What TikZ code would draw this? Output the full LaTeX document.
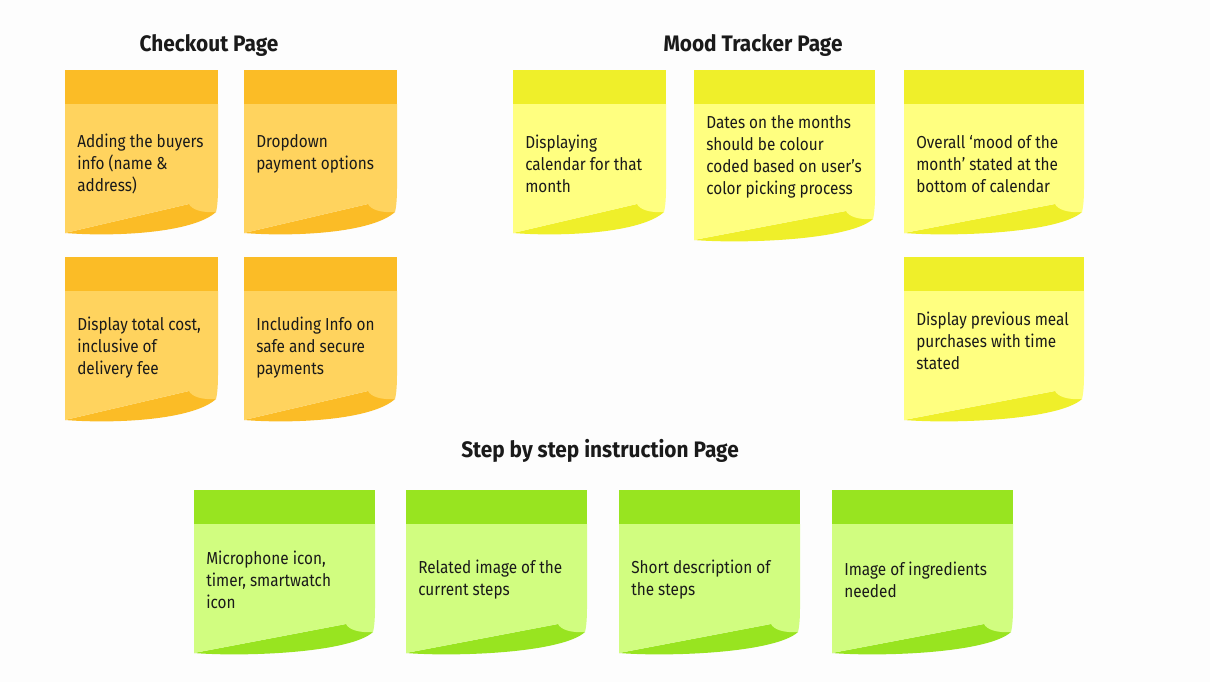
\documentclass[tikz,border=0pt]{standalone}
\usepackage{fontspec}
\setmainfont{Fira Sans}
\newfontfamily\notefont[FakeStretch=0.885]{Fira Sans}
\newfontfamily\headfont[FakeStretch=0.93]{Fira Sans}
\begin{document}
\definecolor{orahead}{HTML}{FBBC26}
\definecolor{orabody}{HTML}{FFD35E}
\definecolor{yelhead}{HTML}{EFEF2A}
\definecolor{yelbody}{HTML}{FFFF80}
\definecolor{grnhead}{HTML}{98E420}
\definecolor{grnbody}{HTML}{D1FD80}
\definecolor{ink}{HTML}{1A1A1A}
\definecolor{paper}{HTML}{FDFDFD}
\tikzset{
  notetext/.style={anchor=west, align=left, inner sep=0pt, text=ink,
    font=\notefont\fontsize{13pt}{16.5pt}\selectfont},
  heading/.style={inner sep=0pt, text=ink, font=\headfont\fontsize{16.8pt}{20pt}\selectfont\bfseries}
}
% sticky note: name, x, y, width, height, palette, text y, text
\newcommand\stickynote[8]{%
  \begin{scope}[shift={(#2,#3)}]
    \fill[#6head] (0,0) rectangle (#4,34);
    \fill[#6head] (0,#5) .. controls (50,#5+4) and (#4-25,#5) .. (#4-2,#5-21)
      -- (#4-29,#5-29) -- cycle;
    \fill[#6body] (0,34) -- (#4,34) -- (#4,#5-45)
      .. controls (#4,#5-32) and (#4-1,#5-25) .. (#4-2,#5-21)
      .. controls (#4-15,#5-20) and (#4-26,#5-23) .. (#4-29,#5-29)
      -- (0,#5) -- cycle;
    \node[notetext] (#1) at (12,#7) {#8};
  \end{scope}}
\begin{tikzpicture}[x=0.75pt, y=-0.75pt]
  \fill[paper] (0,0) rectangle (1210,682);
  \useasboundingbox (0,0) rectangle (1210,682);

  % section headings
  \node[heading] (hcheckout) at (209,45) {Checkout Page};
  \node[heading] (hmood) at (753,45) {Mood Tracker Page};
  \node[heading] (hsteps) at (600,451) {Step by step instruction Page};

  % checkout page
  \stickynote{ck1}{65}{70}{153}{163}{ora}{94}{Adding the buyers\\info (name \&\\address)}
  \stickynote{ck2}{244}{70}{153}{163}{ora}{84}{Dropdown\\payment options}
  \stickynote{ck3}{65}{257}{153}{163}{ora}{91}{Display total cost,\\inclusive of\\delivery fee}
  \stickynote{ck4}{244}{257}{153}{163}{ora}{91}{Including Info on\\safe and secure\\payments}

  % mood tracker page
  \stickynote{md1}{513}{70}{153}{163}{yel}{94}{Displaying\\calendar for that\\month}
  \stickynote{md2}{694}{70}{181}{170}{yel}{87}{Dates on the months\\should be colour\\coded based on user’s\\color picking process}
  \stickynote{md3}{904}{70}{180}{163}{yel}{94}{Overall ‘mood of the\\month’ stated at the\\bottom of calendar}
  \stickynote{md4}{904}{257}{180}{163}{yel}{84}{Display previous meal\\purchases with time\\stated}

  % step by step instruction page
  \stickynote{st1}{194}{490}{181}{163}{grn}{90}{Microphone icon,\\timer, smartwatch\\icon}
  \stickynote{st2}{406}{490}{181}{163}{grn}{90}{Related image of the\\current steps}
  \stickynote{st3}{619}{490}{181}{163}{grn}{90}{Short description of\\the steps}
  \stickynote{st4}{832}{490}{181}{163}{grn}{90}{Image of ingredients\\needed}
\end{tikzpicture}
\end{document}
